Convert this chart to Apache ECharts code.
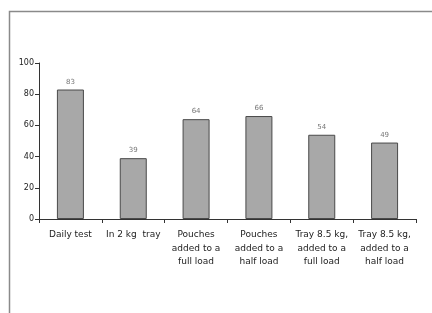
<!DOCTYPE html>
<html>
<head>
<meta charset="utf-8">
<script src="https://cdn.jsdelivr.net/npm/echarts@6/dist/echarts.min.js"></script>
<style>
  html, body { margin: 0; padding: 0; background: #fff; }
  #chart { width: 432px; height: 313px; }
</style>
</head>
<body>
<div id="chart"></div>
<script>
var categories = [
  'Daily test',
  'In 2 kg  tray',
  'Pouches\nadded to a\nfull load',
  'Pouches\nadded to a\nhalf load',
  'Tray 8.5 kg,\nadded to a\nfull load',
  'Tray 8.5 kg,\nadded to a\nhalf load'
]
var values = [83, 39, 64, 66, 54, 49]
var yTicks = [0, 20, 40, 60, 80, 100]

var chart = echarts.init(document.getElementById('chart'), null, { renderer: 'canvas' })

chart.setOption({
  animation: false,
  textStyle: { fontFamily: 'DejaVu Sans, Verdana, sans-serif' },
  grid: { left: 39, right: 16, top: 63, bottom: 94 },
  // frame around the plot area (top + left edge)
  graphic: [{
    type: 'polyline',
    shape: { points: [[9.5, 313], [9.5, 11.5], [432, 11.5]] },
    style: { stroke: '#8a8a8a', lineWidth: 1.5, fill: null },
    silent: true
  }],
  xAxis: {
    type: 'category',
    data: categories,
    axisLine: { lineStyle: { color: '#333', width: 1 } },
    axisTick: { show: true, alignWithLabel: false, length: 4, lineStyle: { color: '#333' } },
    axisLabel: {
      interval: 0,
      color: '#222',
      fontSize: 9,
      lineHeight: 13.5,
      margin: 9
    }
  },
  yAxis: {
    type: 'value',
    min: yTicks[0],
    max: yTicks[yTicks.length - 1],
    interval: 20,
    splitLine: { show: false },
    axisLine: { show: true, lineStyle: { color: '#333', width: 1 } },
    axisTick: { show: true, length: 4, lineStyle: { color: '#333' } },
    axisLabel: { color: '#222', fontSize: 8, margin: 5 }
  },
  series: [{
    type: 'bar',
    data: values,
    barWidth: 27,
    itemStyle: { color: '#a8a8a8', borderColor: '#4a4a4a', borderWidth: 1 },
    label: {
      show: true,
      position: 'top',
      distance: 4,
      color: '#777',
      fontSize: 7
    }
  }]
})
</script>
</body>
</html>
